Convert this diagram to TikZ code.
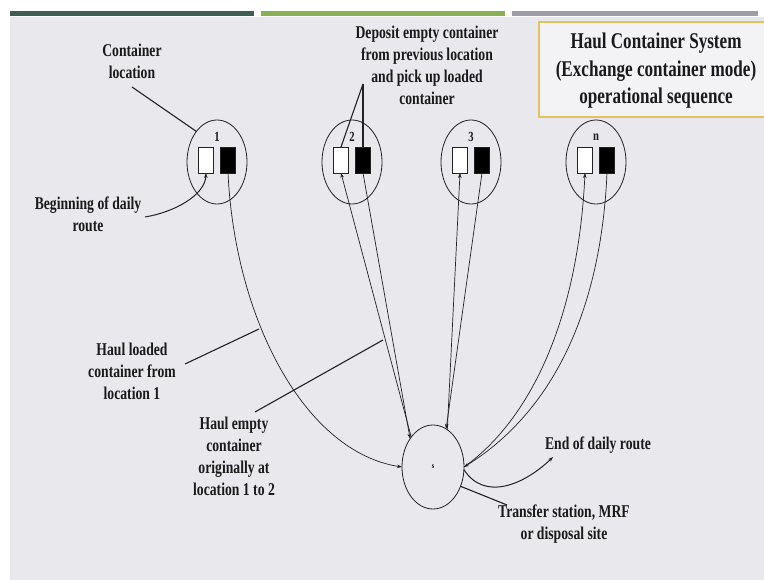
\documentclass[tikz,border=0pt]{standalone}
\usepackage{fontspec}
\newfontfamily\lblfont[FakeStretch=0.76]{Liberation Serif}
\usetikzlibrary{shapes.geometric,arrows.meta}
\definecolor{bgcol}{RGB}{233,232,237}
\definecolor{titlefill}{RGB}{243,243,245}
\definecolor{gold}{RGB}{226,196,92}
\definecolor{barA}{RGB}{62,94,82}
\definecolor{barB}{RGB}{139,176,84}
\definecolor{barC}{RGB}{158,158,166}
\definecolor{linecol}{RGB}{34,34,34}
\definecolor{txtcol}{RGB}{26,26,26}
\tikzset{
  loc/.style={ellipse, draw=linecol, line width=0.8pt, minimum width=60pt, minimum height=84pt, inner sep=0pt, outer sep=0pt},
  wbox/.style={rectangle, draw=linecol, fill=white, line width=0.8pt, minimum width=15pt, minimum height=26pt, inner sep=0pt, outer sep=0pt},
  bbox/.style={wbox, fill=black},
  lbl/.style={font=\lblfont\bfseries\fontsize{18}{22}\selectfont, align=center, text=txtcol, inner sep=0pt},
  ttl/.style={font=\lblfont\bfseries\fontsize{22.5}{27.5}\selectfont, align=center, text=txtcol, inner sep=0pt},
  num/.style={font=\lblfont\bfseries\fontsize{14}{14}\selectfont, text=txtcol, inner sep=0pt},
  conn/.style={draw=linecol, line width=0.7pt},
  arr/.style={conn, -{Stealth[length=5pt,width=3.6pt]}},
  lead/.style={draw=linecol, line width=1.1pt},
  titleframe/.style={draw=gold, line width=2.5pt, fill=titlefill}
}
\begin{document}
\begin{tikzpicture}[x=1pt,y=-1pt]
\useasboundingbox (0,0) rectangle (764,580);
\fill[white] (0,0) rectangle (764,580);
\fill[bgcol] (10,17) rectangle (764,580);
\fill[barA] (10,11) rectangle (254,16);
\fill[barB] (261,11) rectangle (505,16);
\fill[barC] (512,11) rectangle (758,16);
% title
\draw[titleframe] (539,22) rectangle (778,117);
\node[ttl] (title) at (656,71) {Haul Container System\\(Exchange container mode)\\operational sequence};
% locations
\foreach \i/\x in {1/217, 2/352, 3/471, n/596} {
  \node[loc] (c\i) at (\x,162) {};
  \node[wbox] (w\i) at (\x-11,160) {};
  \node[bbox] (b\i) at (\x+11,160) {};
  \node[num] (l\i) at (\x,137) {\i};
}
% site
\node[loc, minimum width=62pt] (s) at (433,467) {\lblfont\bfseries\fontsize{8}{8}\selectfont s};
% labels
\node[lbl] (cl) at (132,61) {Container\\location};
\node[lbl] (beg) at (88,214) {Beginning of daily\\route};
\node[lbl] (dep) at (427,65) {Deposit empty container\\from previous location\\and pick up loaded\\container};
\node[lbl] (hl) at (132,371) {Haul loaded\\container from\\location 1};
\node[lbl] (he) at (234,456) {Haul empty\\container\\originally at\\location 1 to 2};
\node[lbl] (er) at (598,445) {End of daily route};
\node[lbl] (tf) at (564,524) {Transfer station, MRF\\or disposal site};
% free ends
\coordinate (clpt) at (132,87);
\coordinate (begpt) at (145,217);
\coordinate (deppt) at (363,84);
\coordinate (hlpt) at (185,364);
\coordinate (hlend) at (259,329);
\coordinate (hept) at (255,412);
\coordinate (heend) at (383,340);
\coordinate (endr) at (553,457);
\coordinate (tfpt) at (507,505);
% route connectors
\draw[arr, line width=1pt] (begpt) .. controls (175,212) and (205,195) .. (w1.south);
\draw[arr] (b1.south) .. controls (235,320) and (305,452) .. (s.west);
\draw[arr] (s.126) -- (w2.south);
\draw[arr] (b2.south) -- (s.129);
\draw[arr] (s.69) -- (w3.south);
\draw[arr] (b3.south) -- (s.71);
\draw[arr] (s.east) .. controls (530,420) and (578,320) .. (wn.south);
\draw[arr] (bn.south) .. controls (600,330) and (540,420) .. (s.east);
\draw[arr, line width=1pt] (s.-5) .. controls (485,502) and (525,484) .. (endr);
% leaders
\draw[lead] (clpt) -- (c1.124);
\draw[lead] (deppt) -- (w2.north);
\draw[lead] (deppt) -- (b2.north);
\draw[lead] (hlpt) -- (hlend);
\draw[lead] (hept) -- (heend);
\draw[lead] (s.-35) -- (tfpt);
\end{tikzpicture}
\end{document}
